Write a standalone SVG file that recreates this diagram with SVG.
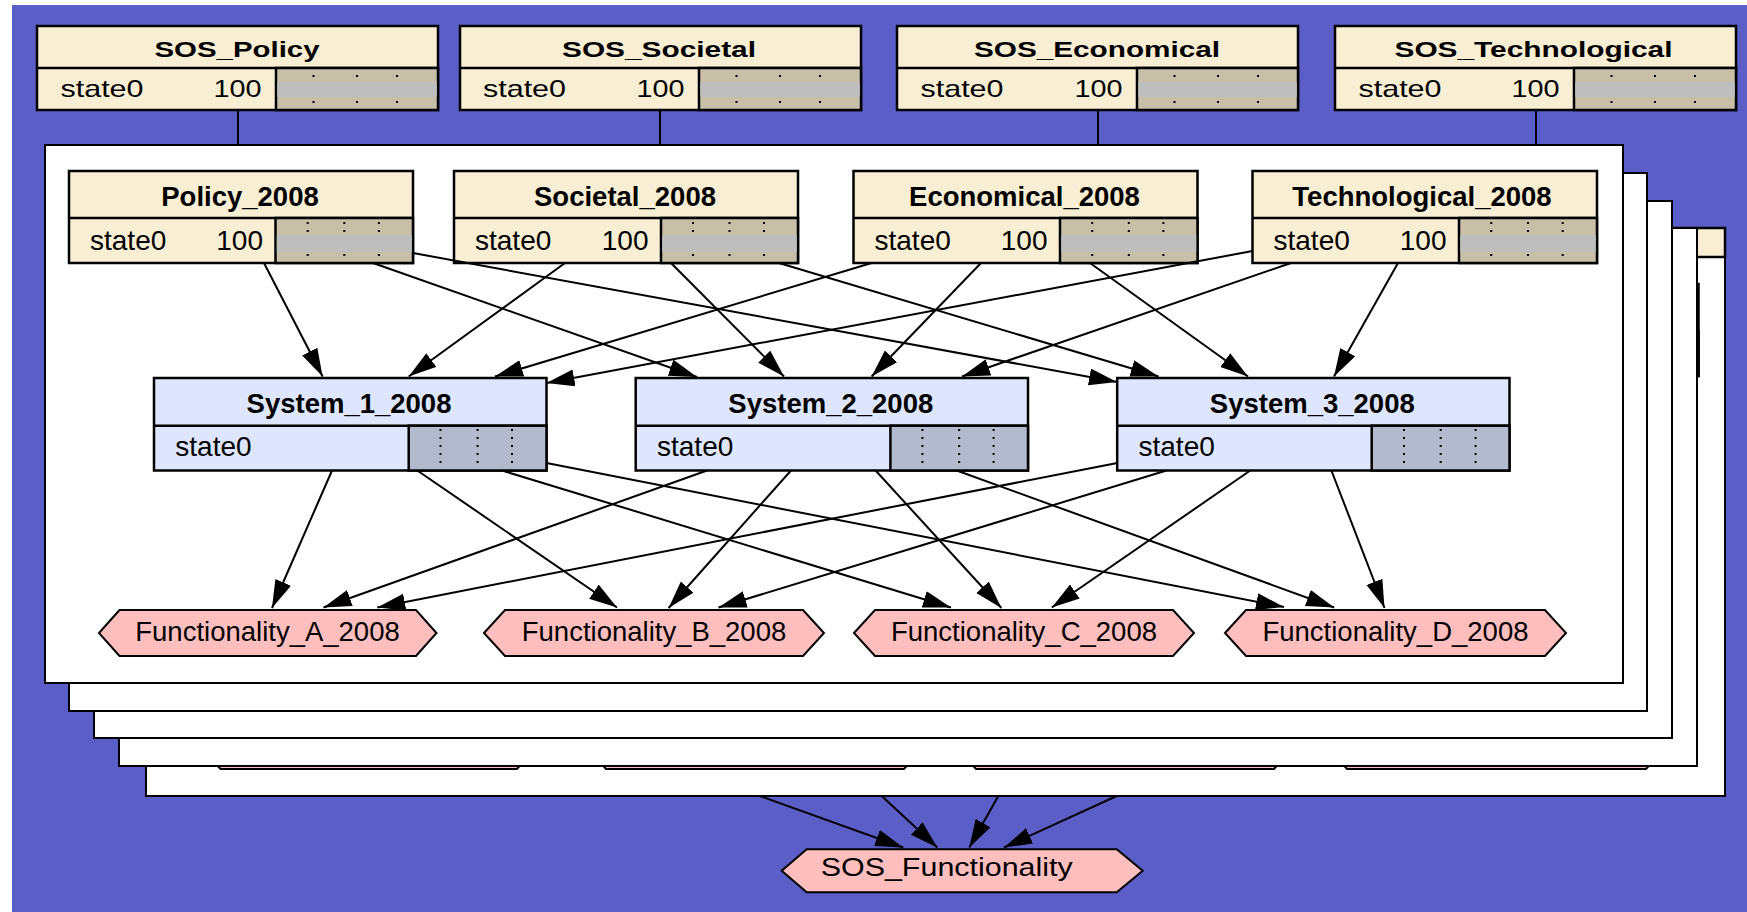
<svg xmlns="http://www.w3.org/2000/svg" width="1747" height="912" viewBox="0 0 1747 912">
<defs>
<marker id="ah" markerUnits="userSpaceOnUse" markerWidth="30" markerHeight="20" refX="28" refY="8.5" orient="auto"><path d="M0,0 L28,8.5 L0,17 z" fill="#000"/></marker>
<style>
text{font-family:"Liberation Sans",Arial,sans-serif;fill:#000}
.tan{fill:#f8eed3;stroke:#000;stroke-width:2.5}
.bar{fill:#c8bfa9;stroke:#000;stroke-width:2.5}
.band{fill:#bebebe}
.sys{fill:#dde6fc;stroke:#000;stroke-width:2.5}
.cell{fill:#b4bacd;stroke:#000;stroke-width:2.5}
.div{stroke:#000;stroke-width:2.5}
.dots{stroke:#000;stroke-width:2;stroke-dasharray:2 6}
.dots2{stroke:#000;stroke-width:2;stroke-dasharray:2 24}
.hex{fill:#ffbebe;stroke:#000;stroke-width:2}
.panel{fill:#fff;stroke:#000;stroke-width:2}
.edge{stroke:#000;stroke-width:2;fill:none;marker-end:url(#ah)}
.plain{stroke:#000;stroke-width:2;fill:none}
.t1{font-size:22px;font-weight:bold}
.v1{font-size:24px}
.t2{font-size:27.5px;font-weight:bold}
.v2{font-size:28px}
.f2{font-size:27.5px}
</style>
</defs>
<rect x="0" y="0" width="1747" height="912" fill="#fff"/>
<rect x="12" y="5" width="1735" height="907" fill="#5b5ec6"/>

<!-- SOS nodes -->
<g id="SOS_Policy">
<rect class="tan" x="37" y="26" width="401" height="84"/>
<line class="div" x1="37" y1="68" x2="438" y2="68"/>
<rect class="bar" x="276" y="68" width="162" height="42"/>
<line class="dots2" x1="313.5" y1="75" x2="313.5" y2="104"/><line class="dots2" x1="357" y1="75" x2="357" y2="104"/><line class="dots2" x1="397" y1="75" x2="397" y2="104"/>
<rect class="band" x="277.3" y="82" width="159.4" height="15"/>
<text class="t1" x="237" y="57" text-anchor="middle" textLength="165" lengthAdjust="spacingAndGlyphs">SOS_Policy</text>
<text class="v1" x="60.5" y="97" textLength="83" lengthAdjust="spacingAndGlyphs">state0</text>
<text class="v1" x="213.5" y="97" textLength="48" lengthAdjust="spacingAndGlyphs">100</text>
</g>
<g id="SOS_Societal">
<rect class="tan" x="460" y="26" width="401" height="84"/>
<line class="div" x1="460" y1="68" x2="861" y2="68"/>
<rect class="bar" x="699" y="68" width="162" height="42"/>
<line class="dots2" x1="736.5" y1="75" x2="736.5" y2="104"/><line class="dots2" x1="780" y1="75" x2="780" y2="104"/><line class="dots2" x1="820" y1="75" x2="820" y2="104"/>
<rect class="band" x="700.3" y="82" width="159.4" height="15"/>
<text class="t1" x="659" y="57" text-anchor="middle" textLength="194" lengthAdjust="spacingAndGlyphs">SOS_Societal</text>
<text class="v1" x="483" y="97" textLength="83" lengthAdjust="spacingAndGlyphs">state0</text>
<text class="v1" x="636.5" y="97" textLength="48" lengthAdjust="spacingAndGlyphs">100</text>
</g>
<g id="SOS_Economical">
<rect class="tan" x="897" y="26" width="401" height="84"/>
<line class="div" x1="897" y1="68" x2="1298" y2="68"/>
<rect class="bar" x="1137" y="68" width="161" height="42"/>
<line class="dots2" x1="1174.5" y1="75" x2="1174.5" y2="104"/><line class="dots2" x1="1218" y1="75" x2="1218" y2="104"/><line class="dots2" x1="1258" y1="75" x2="1258" y2="104"/>
<rect class="band" x="1138.3" y="82" width="158.4" height="15"/>
<text class="t1" x="1097" y="57" text-anchor="middle" textLength="246" lengthAdjust="spacingAndGlyphs">SOS_Economical</text>
<text class="v1" x="920.5" y="97" textLength="83" lengthAdjust="spacingAndGlyphs">state0</text>
<text class="v1" x="1074.5" y="97" textLength="48" lengthAdjust="spacingAndGlyphs">100</text>
</g>
<g id="SOS_Technological">
<rect class="tan" x="1335" y="26" width="401" height="84"/>
<line class="div" x1="1335" y1="68" x2="1736" y2="68"/>
<rect class="bar" x="1574" y="68" width="162" height="42"/>
<line class="dots2" x1="1611.5" y1="75" x2="1611.5" y2="104"/><line class="dots2" x1="1655" y1="75" x2="1655" y2="104"/><line class="dots2" x1="1695" y1="75" x2="1695" y2="104"/>
<rect class="band" x="1575.3" y="82" width="159.4" height="15"/>
<text class="t1" x="1533.5" y="57" text-anchor="middle" textLength="278" lengthAdjust="spacingAndGlyphs">SOS_Technological</text>
<text class="v1" x="1358.5" y="97" textLength="83" lengthAdjust="spacingAndGlyphs">state0</text>
<text class="v1" x="1511.5" y="97" textLength="48" lengthAdjust="spacingAndGlyphs">100</text>
</g>

<!-- stacked panels -->
<g id="panel5">
<rect class="panel" x="146" y="228" width="1579" height="568" stroke="#333"/>
<rect class="tan" x="146" y="228" width="1579" height="29" stroke-width="2"/>
<rect class="tan" x="1353.5" y="284" width="345" height="92"/>
<rect class="bar" x="1560" y="331" width="138.5" height="45"/>
<polygon class="hex" points="200,746 220.5,723 517,723 537,746 517,769 220.5,769"/>
<polygon class="hex" points="585,746 606,723 904,723 925,746 904,769 606,769"/>
<polygon class="hex" points="955,746 976,723 1274,723 1295,746 1274,769 976,769"/>
<polygon class="hex" points="1326,746 1347,723 1646,723 1667,746 1646,769 1347,769"/>
</g>
<rect id="panel4" class="panel" x="119" y="228" width="1578" height="538"/>
<rect id="panel3" class="panel" x="94" y="201" width="1578" height="537"/>
<rect id="panel2" class="panel" x="69" y="173" width="1578" height="538"/>
<rect id="panel1" class="panel" x="45" y="145" width="1578" height="538"/>

<!-- 2008 factor nodes -->
<g id="Policy_2008">
<rect class="tan" x="69" y="171" width="344" height="92"/>
<line class="div" x1="69" y1="218" x2="413" y2="218"/>
<rect class="bar" x="275.5" y="218" width="137.5" height="45"/>
<line class="dots" x1="307.7" y1="222" x2="307.7" y2="262"/><line class="dots" x1="344.3" y1="222" x2="344.3" y2="262"/><line class="dots" x1="378.9" y1="222" x2="378.9" y2="262"/>
<rect class="band" x="276.8" y="235" width="134.9" height="17"/>
<text class="t2" x="240" y="206" text-anchor="middle">Policy_2008</text>
<text class="v2" x="90" y="250">state0</text>
<text class="v2" x="263" y="250" text-anchor="end">100</text>
</g>
<g id="Societal_2008">
<rect class="tan" x="454" y="171" width="344" height="92"/>
<line class="div" x1="454" y1="218" x2="798" y2="218"/>
<rect class="bar" x="661" y="218" width="137" height="45"/>
<line class="dots" x1="693" y1="222" x2="693" y2="262"/><line class="dots" x1="729.5" y1="222" x2="729.5" y2="262"/><line class="dots" x1="764" y1="222" x2="764" y2="262"/>
<rect class="band" x="662.3" y="235" width="134.4" height="17"/>
<text class="t2" x="625" y="206" text-anchor="middle">Societal_2008</text>
<text class="v2" x="475" y="250">state0</text>
<text class="v2" x="648.5" y="250" text-anchor="end">100</text>
</g>
<g id="Economical_2008">
<rect class="tan" x="853.5" y="171" width="344" height="92"/>
<line class="div" x1="853.5" y1="218" x2="1197.5" y2="218"/>
<rect class="bar" x="1060" y="218" width="137.5" height="45"/>
<line class="dots" x1="1092.2" y1="222" x2="1092.2" y2="262"/><line class="dots" x1="1128.8" y1="222" x2="1128.8" y2="262"/><line class="dots" x1="1163.4" y1="222" x2="1163.4" y2="262"/>
<rect class="band" x="1061.3" y="235" width="134.9" height="17"/>
<text class="t2" x="1024.5" y="206" text-anchor="middle">Economical_2008</text>
<text class="v2" x="874.5" y="250">state0</text>
<text class="v2" x="1047.5" y="250" text-anchor="end">100</text>
</g>
<g id="Technological_2008">
<rect class="tan" x="1252.5" y="171" width="344.5" height="92"/>
<line class="div" x1="1252.5" y1="218" x2="1597" y2="218"/>
<rect class="bar" x="1459" y="218" width="138" height="45"/>
<line class="dots" x1="1491.2" y1="222" x2="1491.2" y2="262"/><line class="dots" x1="1528" y1="222" x2="1528" y2="262"/><line class="dots" x1="1562.7" y1="222" x2="1562.7" y2="262"/>
<rect class="band" x="1460.3" y="235" width="135.4" height="17"/>
<text class="t2" x="1422" y="206" text-anchor="middle">Technological_2008</text>
<text class="v2" x="1273.5" y="250">state0</text>
<text class="v2" x="1446.5" y="250" text-anchor="end">100</text>
</g>

<!-- systems -->
<g id="System_1_2008">
<rect class="sys" x="154" y="378" width="392.5" height="92.5"/>
<line class="div" x1="154" y1="425.7" x2="546.5" y2="425.7"/>
<rect class="cell" x="408.7" y="425.7" width="137.8" height="44.8"/>
<line class="dots" x1="440.5" y1="429" x2="440.5" y2="469"/><line class="dots" x1="477.6" y1="429" x2="477.6" y2="469"/><line class="dots" x1="512" y1="429" x2="512" y2="469"/>
<text class="t2" x="349" y="413" text-anchor="middle">System_1_2008</text>
<text class="v2" x="175.3" y="456">state0</text>
</g>
<g id="System_2_2008">
<rect class="sys" x="635.7" y="378" width="392.3" height="92.5"/>
<line class="div" x1="635.7" y1="425.7" x2="1028" y2="425.7"/>
<rect class="cell" x="890.4" y="425.7" width="137.6" height="44.8"/>
<line class="dots" x1="922.4" y1="429" x2="922.4" y2="469"/><line class="dots" x1="959.2" y1="429" x2="959.2" y2="469"/><line class="dots" x1="993.6" y1="429" x2="993.6" y2="469"/>
<text class="t2" x="830.8" y="413" text-anchor="middle">System_2_2008</text>
<text class="v2" x="657" y="456">state0</text>
</g>
<g id="System_3_2008">
<rect class="sys" x="1117.2" y="378" width="392.3" height="92.5"/>
<line class="div" x1="1117.2" y1="425.7" x2="1509.5" y2="425.7"/>
<rect class="cell" x="1371.7" y="425.7" width="137.8" height="44.8"/>
<line class="dots" x1="1404" y1="429" x2="1404" y2="469"/><line class="dots" x1="1440.7" y1="429" x2="1440.7" y2="469"/><line class="dots" x1="1475.6" y1="429" x2="1475.6" y2="469"/>
<text class="t2" x="1312.3" y="413" text-anchor="middle">System_3_2008</text>
<text class="v2" x="1138.5" y="456">state0</text>
</g>

<!-- functionalities -->
<g id="Functionality_A_2008">
<polygon class="hex" points="99,633 119.5,610 416,610 436.5,633 416,656 119.5,656"/>
<text class="f2" x="267.5" y="640.5" text-anchor="middle">Functionality_A_2008</text>
</g>
<g id="Functionality_B_2008">
<polygon class="hex" points="484,633 505,610 803,610 824,633 803,656 505,656"/>
<text class="f2" x="654" y="640.5" text-anchor="middle">Functionality_B_2008</text>
</g>
<g id="Functionality_C_2008">
<polygon class="hex" points="854,633 875,610 1173,610 1194,633 1173,656 875,656"/>
<text class="f2" x="1024" y="640.5" text-anchor="middle">Functionality_C_2008</text>
</g>
<g id="Functionality_D_2008">
<polygon class="hex" points="1225,633 1246,610 1545,610 1566,633 1545,656 1246,656"/>
<text class="f2" x="1395.5" y="640.5" text-anchor="middle">Functionality_D_2008</text>
</g>

<g id="SOS_Functionality">
<polygon class="hex" points="781.7,870.8 806.7,849.3 1116.7,849.3 1142.7,870.8 1116.7,892.3 806.7,892.3"/>
<text x="820.7" y="875.5" font-size="25.5" textLength="252" lengthAdjust="spacingAndGlyphs">SOS_Functionality</text>
</g>

<!-- connectors -->
<g id="connectors">
<line class="plain" x1="238" y1="110" x2="238" y2="145"/>
<line class="plain" x1="660" y1="110" x2="660" y2="145"/>
<line class="plain" x1="1098" y1="110" x2="1098" y2="145"/>
<line class="plain" x1="1536" y1="110" x2="1536" y2="145"/>

<line class="edge" x1="264" y1="263" x2="322.6" y2="376.5"/>
<line class="edge" x1="373" y1="263" x2="697" y2="377"/>
<line class="edge" x1="413" y1="253" x2="1117" y2="382"/>
<line class="edge" x1="565" y1="263" x2="408.7" y2="376.5"/>
<line class="edge" x1="671" y1="263" x2="784" y2="376.5"/>
<line class="edge" x1="779" y1="263" x2="1158.6" y2="376.5"/>
<line class="edge" x1="871.6" y1="263" x2="495" y2="376.5"/>
<line class="edge" x1="981" y1="263" x2="871.6" y2="376.5"/>
<line class="edge" x1="1090" y1="263" x2="1248" y2="376.5"/>
<line class="edge" x1="1252.5" y1="251" x2="546.5" y2="383"/>
<line class="edge" x1="1291" y1="263" x2="962" y2="376.5"/>
<line class="edge" x1="1398" y1="263" x2="1334" y2="376.5"/>

<line class="edge" x1="332" y1="470.5" x2="272" y2="608"/>
<line class="edge" x1="417.3" y1="470.5" x2="617" y2="607.5"/>
<line class="edge" x1="502" y1="470.5" x2="951" y2="607.5"/>
<line class="edge" x1="546.5" y1="463" x2="1284" y2="607"/>
<line class="edge" x1="707" y1="470.5" x2="323.5" y2="607.5"/>
<line class="edge" x1="791" y1="470.5" x2="668.6" y2="608"/>
<line class="edge" x1="875.6" y1="470.5" x2="1001.4" y2="608"/>
<line class="edge" x1="956.7" y1="470.5" x2="1334.2" y2="607.5"/>
<line class="edge" x1="1117.2" y1="463" x2="377.3" y2="607.5"/>
<line class="edge" x1="1166.4" y1="470.5" x2="718.5" y2="607.5"/>
<line class="edge" x1="1250.3" y1="470.5" x2="1051.8" y2="607.5"/>
<line class="edge" x1="1331.4" y1="470.5" x2="1384.5" y2="608"/>

<line class="edge" x1="760" y1="796" x2="903.3" y2="847.5"/>
<line class="edge" x1="881.7" y1="796" x2="937.3" y2="847.5"/>
<line class="edge" x1="998.3" y1="796" x2="969.3" y2="847.5"/>
<line class="edge" x1="1116.7" y1="796" x2="1004" y2="847.5"/>
</g>
</svg>
